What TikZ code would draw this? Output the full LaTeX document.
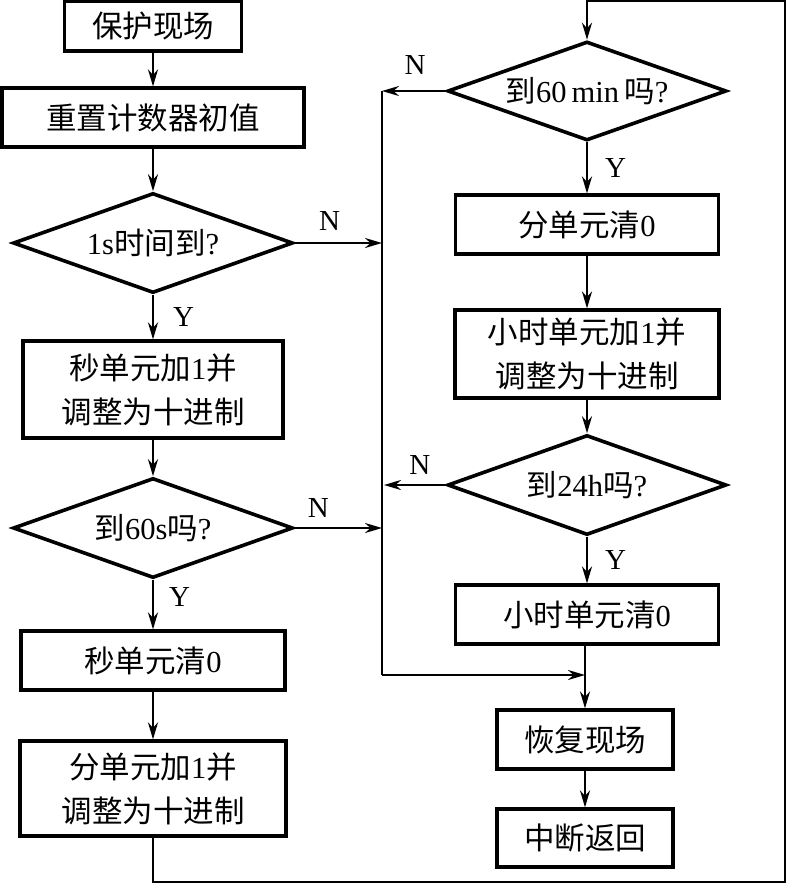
\documentclass[tikz,border=0pt]{standalone}
\usepackage{fontspec}
\setmainfont{Liberation Serif}
\newfontfamily\cjk{Noto Sans CJK SC}
\usepackage{tikz}
\usetikzlibrary{shapes,arrows,arrows.meta}
\newcommand{\zh}[1]{{\cjk #1}}
\tikzstyle{mybox} = [draw=black, line width=3.2pt, rectangle, inner sep=0pt, align=center, font=\fontsize{30.5}{44}\selectfont]
\tikzstyle{mydiam} = [draw=black, line width=3.6pt, diamond, aspect=2.8, inner sep=0pt, minimum width=280pt, minimum height=100pt, font=\fontsize{30.5}{36}\selectfont]
\tikzstyle{myarrow} = [line width=2.2pt, -{Stealth[length=17pt,width=10pt]}]
\tikzstyle{myline} = [line width=2.2pt]
\tikzstyle{mylabel} = [inner sep=0pt, font=\fontsize{29}{30}\selectfont]
\begin{document}
\begin{tikzpicture}[x=1pt,y=-1pt]
\useasboundingbox (0,0) rectangle (790,884);
% colonna sinistra
\node [mybox, minimum width=177pt, minimum height=50pt] (protect) at (153,26) {\zh{保护现场}};
\node [mybox, minimum width=302pt, minimum height=59pt] (reset) at (153,117.5) {\zh{重置计数器初值}};
\node [mydiam] (d1s) at (153,243) {1s\zh{时间到}?};
\node [mybox, minimum width=260pt, minimum height=97pt] (secinc) at (153,389.5) {\zh{秒单元加}1\zh{并}\\\zh{调整为十进制}};
\node [mydiam] (d60s) at (153,528) {\zh{到}60s\zh{吗}?};
\node [mybox, minimum width=264pt, minimum height=59pt] (secclr) at (153,660.5) {\zh{秒单元清}0};
\node [mybox, minimum width=266pt, minimum height=95pt] (mininc) at (153,788.5) {\zh{分单元加}1\zh{并}\\\zh{调整为十进制}};
% colonna destra
\node [mydiam, minimum width=279pt, minimum height=99pt] (d60min) at (587,91) {\zh{到}60\,min\,\zh{吗}?};
\node [mybox, minimum width=263pt, minimum height=59pt] (minclr) at (587,224.5) {\zh{分单元清}0};
\node [mybox, minimum width=264pt, minimum height=88pt] (hourinc) at (587,354) {\zh{小时单元加}1\zh{并}\\\zh{调整为十进制}};
\node [mydiam, minimum width=279pt] (d24h) at (587,485) {\zh{到}24h\zh{吗}?};
\node [mybox, minimum width=263pt, minimum height=59pt] (hourclr) at (587,614.5) {\zh{小时单元清}0};
\node [mybox, minimum width=176pt, minimum height=59pt] (restore) at (585,739.5) {\zh{恢复现场}};
\node [mybox, minimum width=176pt, minimum height=58pt] (ret) at (585,838) {\zh{中断返回}};
% punti di passaggio
\coordinate (bmin) at (382,91);
\coordinate (b1s) at (382,243);
\coordinate (b24h) at (384,485);
\coordinate (b60s) at (382,528);
\coordinate (bend) at (382,675);
\coordinate (join) at (585,675);
\coordinate (c1) at (153,882);
\coordinate (c2) at (785,882);
\coordinate (c3) at (785,1);
\coordinate (c4) at (587,1);
\draw [myarrow] (protect) -- (reset);
\draw [myarrow] (reset) -- (d1s);
\draw [myarrow] (d1s) -- node [mylabel, right=19pt] {Y} (secinc);
\draw [myarrow] (secinc) -- (d60s);
\draw [myarrow] (d60s) -- node [mylabel, right=15pt, pos=0.35] {Y} (secclr);
\draw [myarrow] (secclr) -- (mininc);
\draw [myarrow] (mininc) -- (c1) -- (c2) -- (c3) -- (c4) -- (d60min);
\draw [myarrow] (d1s) -- node [mylabel, above=11pt, pos=0.4] {N} (b1s);
\draw [myarrow] (d60s) -- node [mylabel, above=9pt, pos=0.27] {N} (b60s);
\draw [myarrow] (d60min) -- node [mylabel, above=15pt, pos=0.48] {N} (bmin);
\draw [myarrow] (d24h) -- node [mylabel, above=9pt, pos=0.42] {N} (b24h);
\draw [myarrow] (d60min) -- node [mylabel, right=17pt] {Y} (minclr);
\draw [myarrow] (minclr) -- (hourinc);
\draw [myarrow] (hourinc) -- (d24h);
\draw [myarrow] (d24h) -- node [mylabel, right=17pt] {Y} (hourclr);
\draw [myline] (bmin) -- (bend);
\draw [myarrow] (bend) -- (join);
\draw [myarrow] (hourclr.south -| restore) -- (restore);
\draw [myarrow] (restore) -- (ret);
\end{tikzpicture}
\end{document}
